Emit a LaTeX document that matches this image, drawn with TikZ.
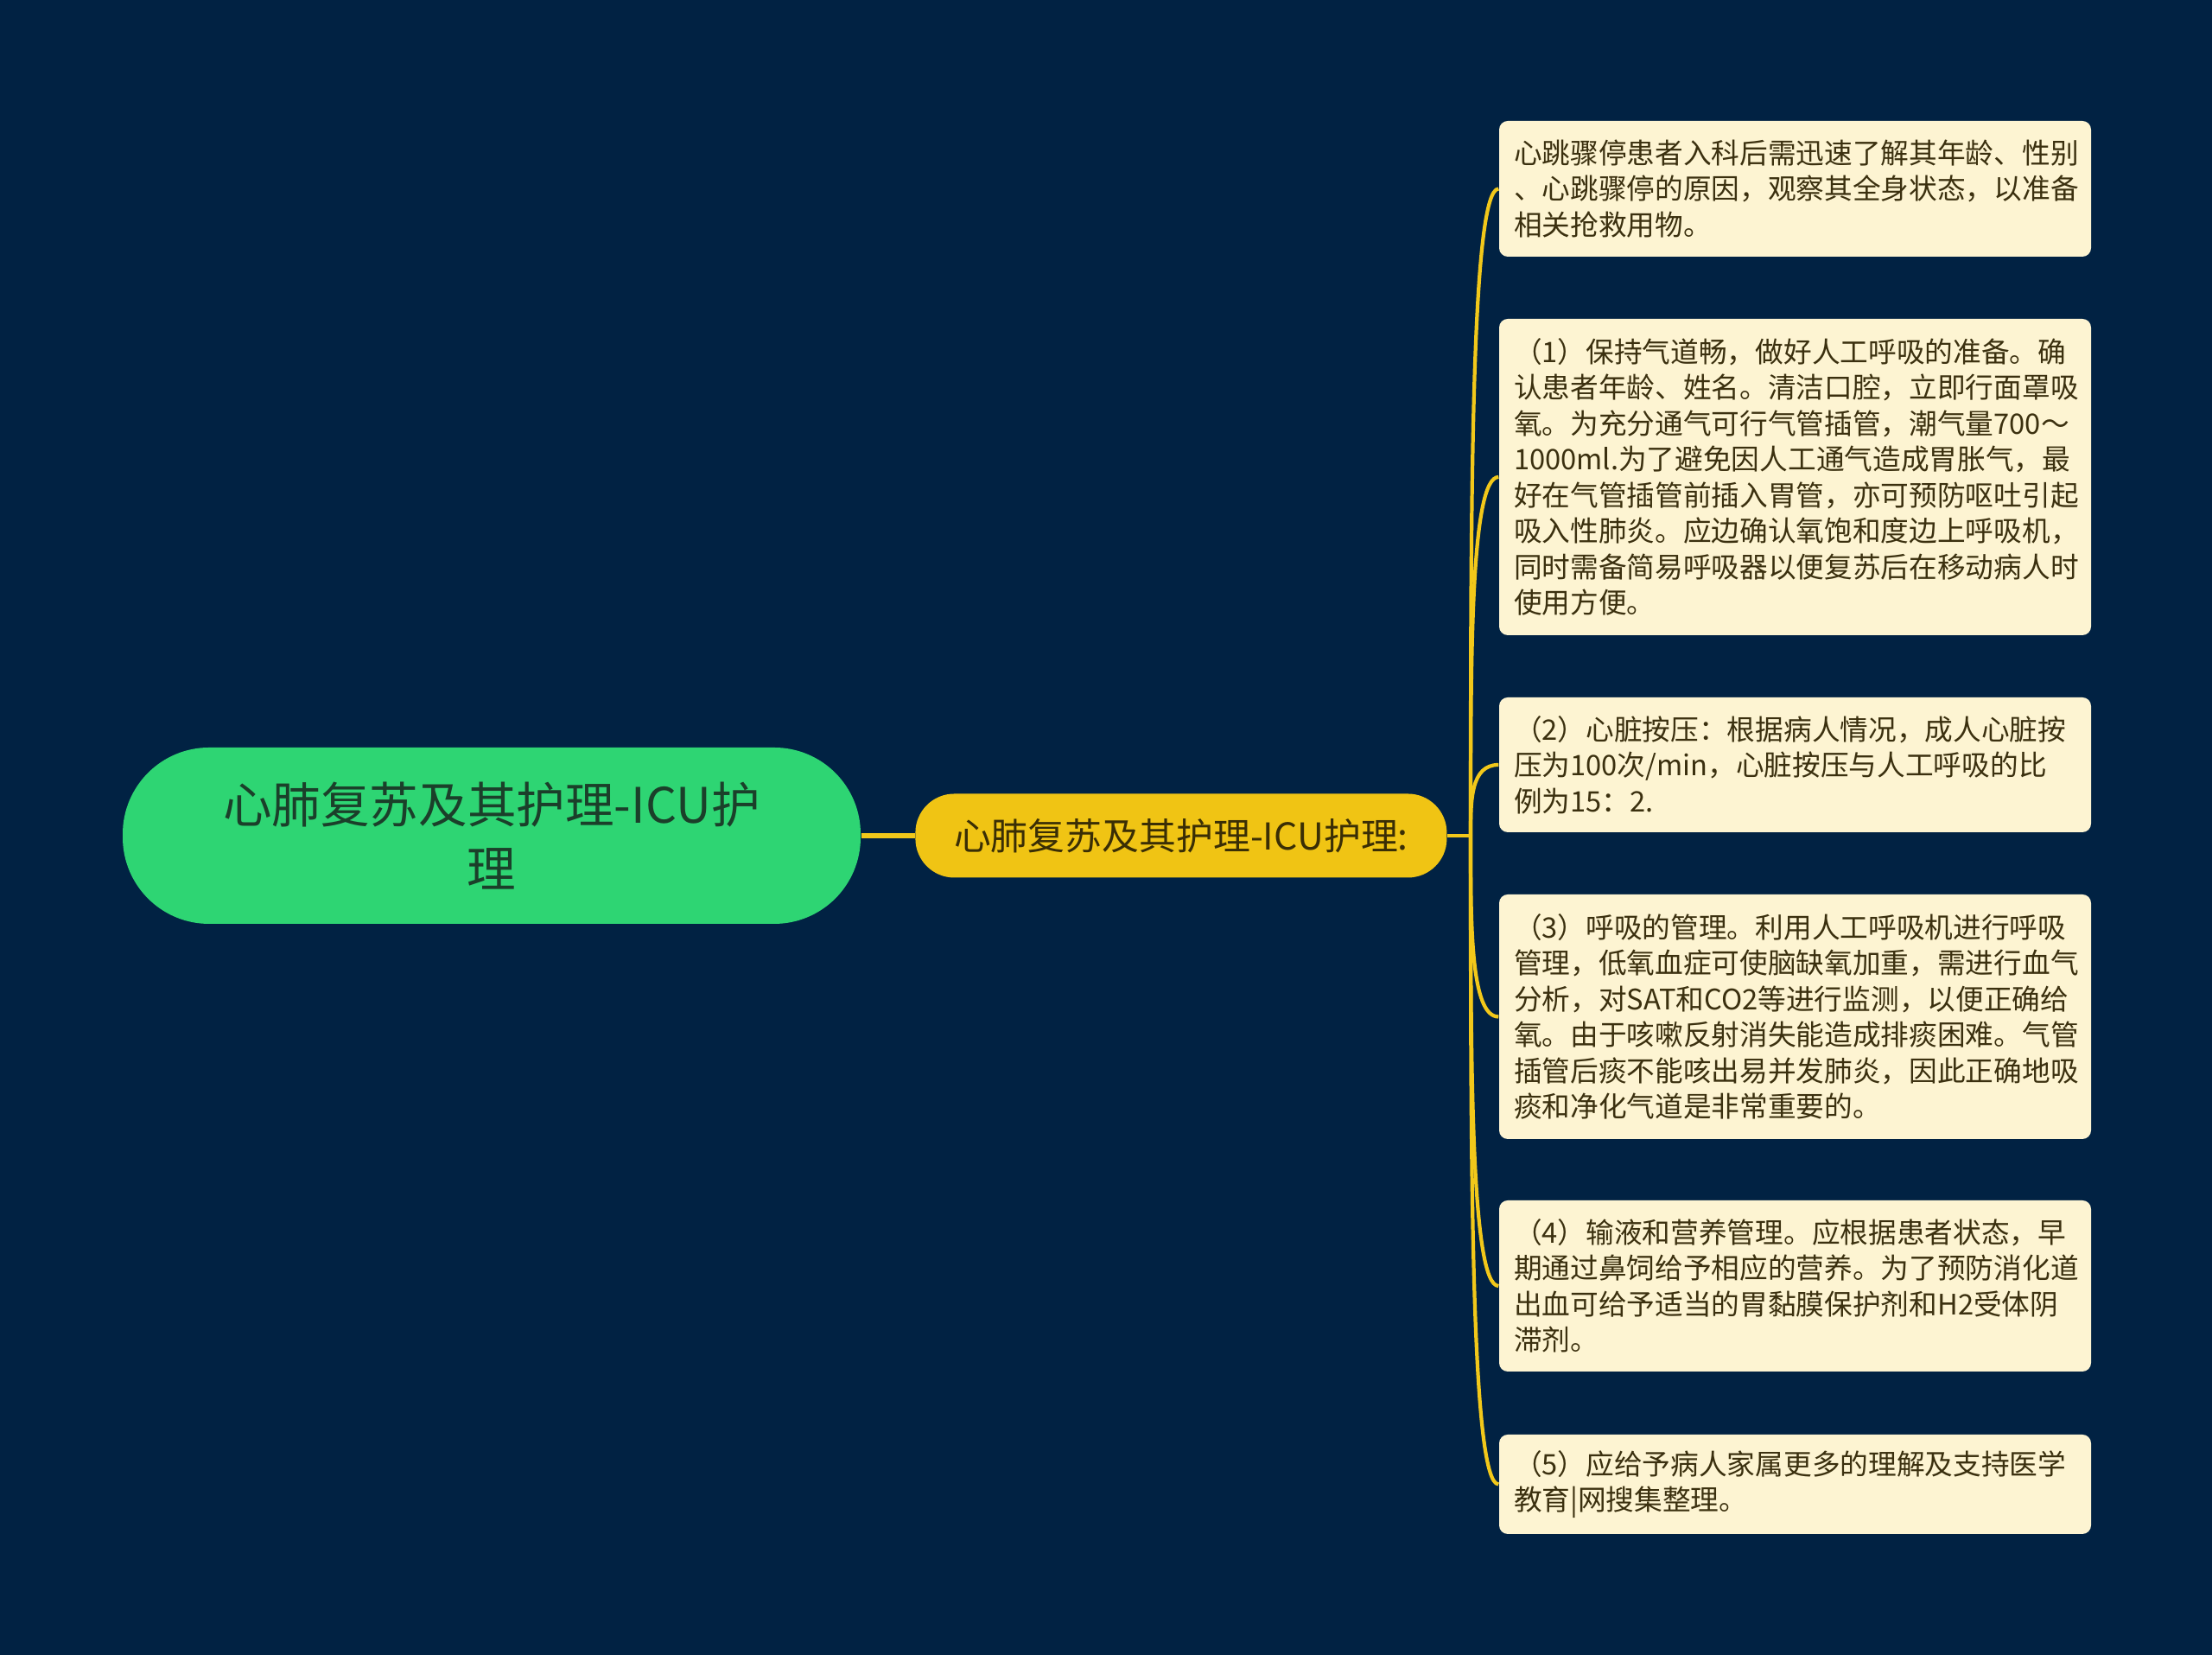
\documentclass[tikz,border=0pt]{standalone}
\usepackage{fontspec}
\setmainfont{Noto Sans CJK SC}
\usetikzlibrary{positioning, calc}
\definecolor{bgnavy}{HTML}{012243}
\definecolor{rootgreen}{HTML}{2ED573}
\definecolor{roottext}{HTML}{1B3F2A}
\definecolor{topicyellow}{HTML}{F0C414}
\definecolor{topictext}{HTML}{3A2E05}
\definecolor{leafcream}{HTML}{FDF4D2}
\definecolor{leaftext}{HTML}{3B300F}
\definecolor{linkyellow}{HTML}{F2C81A}
\tikzset{
    root/.style={fill=rootgreen, text=roottext, rounded corners=1cm, minimum width=8.54cm,
        minimum height=2.04cm, align=center, font=\fontsize{16.1pt}{21pt}\selectfont},
    topic/.style={fill=topicyellow, text=topictext, rounded corners=0.45cm, minimum width=6.15cm,
        minimum height=0.97cm, inner sep=0pt, font=\fontsize{12.2pt}{15pt}\selectfont},
    leaf/.style={fill=leafcream, text=leaftext, rounded corners=0.1cm, text width=6.51cm,
        inner xsep=0.17cm, inner ysep=0pt, align=left, font=\fontsize{9.3pt}{11.8pt}\selectfont},
    branch/.style={draw=linkyellow, line width=1.2pt},
    trunk/.style={draw=linkyellow, line width=1.8pt},
}
\begin{document}
\begin{tikzpicture}
    \fill[bgnavy] (0,0) rectangle (25.6,19.15);
    \node[root] (root) at (5.69,9.48) {心肺复苏及其护理-ICU护\\理};
    \node[topic, right=0.62cm of root] (topic) {心肺复苏及其护理-ICU护理:};
    \coordinate (hub) at (17.02,9.48);
    \node[leaf, minimum height=1.57cm] (l1) at (20.775,16.965) {心跳骤停患者入科后需迅速了解其年龄、性别\\、心跳骤停的原因，观察其全身状态，以准备\\相关抢救用物。};
    \node[leaf, minimum height=3.66cm] (l2) at (20.775,13.63) {（1）保持气道畅，做好人工呼吸的准备。确\\认患者年龄、姓名。清洁口腔，立即行面罩吸\\氧。为充分通气可行气管插管，潮气量700～\\1000ml.为了避免因人工通气造成胃胀气，最\\好在气管插管前插入胃管，亦可预防呕吐引起\\吸入性肺炎。应边确认氧饱和度边上呼吸机，\\同时需备简易呼吸器以便复苏后在移动病人时\\使用方便。};
    \node[leaf, minimum height=1.56cm] (l3) at (20.775,10.30) {（2）心脏按压：根据病人情况，成人心脏按\\压为100次/min，心脏按压与人工呼吸的比\\例为15：2.};
    \node[leaf, minimum height=2.83cm] (l4) at (20.775,7.385) {（3）呼吸的管理。利用人工呼吸机进行呼吸\\管理，低氧血症可使脑缺氧加重，需进行血气\\分析，对SAT和CO2等进行监测，以便正确给\\氧。由于咳嗽反射消失能造成排痰困难。气管\\插管后痰不能咳出易并发肺炎，因此正确地吸\\痰和净化气道是非常重要的。};
    \node[leaf, minimum height=1.98cm] (l5) at (20.775,4.27) {（4）输液和营养管理。应根据患者状态，早\\期通过鼻饲给予相应的营养。为了预防消化道\\出血可给予适当的胃黏膜保护剂和H2受体阴\\滞剂。};
    \node[leaf, minimum height=1.15cm] (l6) at (20.775,1.975) {（5）应给予病人家属更多的理解及支持医学\\教育|网搜集整理。};
    \draw[trunk] (root) -- (topic);
    \draw[branch] (topic.east) -- (hub);
    \foreach \n in {l1,l2,l3,l4,l5,l6}
        \draw[branch] (hub) .. controls ($(hub)!0.5!(hub |- \n.west)$) and (hub |- \n.west) .. (\n.west);
\end{tikzpicture}
\end{document}
